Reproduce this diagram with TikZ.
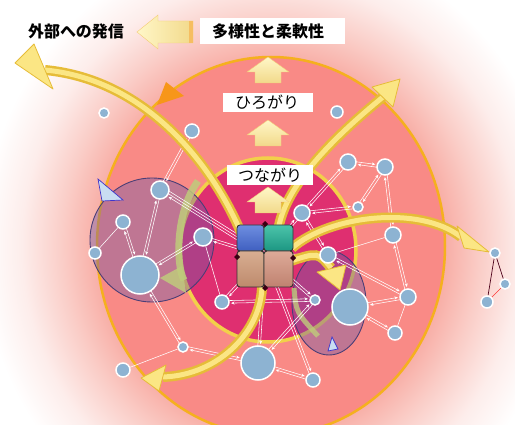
\documentclass[tikz,border=0pt]{standalone}
\usepackage{fontspec}
\newfontfamily\jp{Noto Sans CJK JP}
\usetikzlibrary{calc,arrows.meta}
\definecolor{salmon}{HTML}{F98A86}
\definecolor{orangeb}{HTML}{F5B01E}
\definecolor{magen}{HTML}{DF2F70}
\definecolor{ringy}{HTML}{F2D04A}
\definecolor{nodeb}{HTML}{8DB3D2}
\definecolor{glowa}{HTML}{F8AEA6}
\definecolor{glowb}{HTML}{FACDC7}
\definecolor{glowc}{HTML}{FDEDEB}
\definecolor{ydark}{HTML}{E6BC38}
\definecolor{ylight}{HTML}{FBE684}
\definecolor{ualight}{HTML}{FFF7C8}
\definecolor{uadark}{HTML}{F2D98A}
\definecolor{purp}{HTML}{6A58A8}
\definecolor{greenarc}{HTML}{BFCB7C}
\definecolor{tri}{HTML}{C9DDF2}
\definecolor{sqTLa}{HTML}{6E8EE0}\definecolor{sqTLb}{HTML}{3F5FC0}
\definecolor{sqTRa}{HTML}{4CC4AA}\definecolor{sqTRb}{HTML}{1C9682}
\definecolor{sqBLa}{HTML}{D8AE92}\definecolor{sqBLb}{HTML}{BE8A6C}
\definecolor{sqBRa}{HTML}{DDAA98}\definecolor{sqBRb}{HTML}{C08270}
\pgfdeclareradialshading{glow}{\pgfpoint{0bp}{0bp}}{color(0bp)=(glowa); color(15bp)=(glowa); color(18bp)=(glowb); color(21.5bp)=(glowc); color(25bp)=(white); color(50bp)=(white)}
\pgfdeclarelayer{bgl}\pgfdeclarelayer{conn}\pgfdeclarelayer{arrl}
\pgfsetlayers{bgl,conn,arrl,main}
\newcommand\wArr[3]{\draw[warr,shorten >=#3pt] ($(#1)!1.3pt!90:(#2)$) -- ($(#2)!1.3pt!-90:(#1)$);}
\newcommand\wPair[4]{\wArr{#1}{#2}{#4}\wArr{#2}{#1}{#3}}
\newcommand\upBlk[2]{\draw[uab] (#1,#2) -- ++(21,15) -- ++(-8,0) -- ++(0,11) -- ++(-26,0) -- ++(0,-11) -- ++(-8,0) -- cycle;}
\begin{document}
\begin{tikzpicture}[x=1pt,y=-1pt,
  nd/.style={circle,fill=nodeb,draw=white,line width=1.5pt,inner sep=0pt,minimum size=#1},
  warr/.style={draw=white,line width=0.55pt,-{Stealth[length=3.5pt,width=3pt]}},
  wl/.style={draw=white,line width=0.55pt},
  yarr/.style={draw=ydark,line width=10pt,postaction={draw=ylight,line width=5pt}},
  yhd/.style={fill=ylight,draw=ydark,line width=0.8pt,line join=round},
  uab/.style={top color=ualight,bottom color=uadark,draw=uadark!85!orange,line width=0.4pt},
  lab/.style={font=\jp\fontsize{16pt}{18pt}\selectfont,inner sep=0pt,text=black},
  sqb/.style={draw=black!80,line width=0.9pt,rounded corners=3pt}]
\useasboundingbox (0,0) rectangle (515,425);
\begin{pgfonlayer}{bgl}
\clip (0,0) rectangle (515,425);
\fill[white] (0,0) rectangle (515,425);
\shade[shading=glow] (271,246) ellipse [x radius=290pt, y radius=310pt];
\draw[orangeb, line width=2.5pt, fill=salmon] (271,246) ellipse [x radius=174pt, y radius=189pt];
\fill[orangeb!85!red] (157,105) -- (166,82) -- (184,96) -- cycle;
\draw[ringy, line width=3.5pt, fill=magen] (268,250) ellipse [x radius=88pt, y radius=92pt];
\draw[purp!70!black, line width=0.9pt, fill=purp, fill opacity=0.4] (152,240) circle [radius=62pt];
\draw[purp!70!black, line width=0.9pt, fill=purp, fill opacity=0.4] (329,303) ellipse [x radius=37pt, y radius=52pt];
\draw[purp!60!blue, line width=0.7pt, fill=tri] (98,179) -- (123,200) -- (102,201) -- cycle;
\draw[purp!60!blue, line width=0.7pt, fill=tri] (332,337) -- (338,349) -- (328,351) -- cycle;
\draw[greenarc, line width=7pt, opacity=0.85] (198,181) .. controls (175,212) and (176,266) .. (184,280);
\fill[greenarc, opacity=0.85] (160,278) -- (182,266) -- (186,293) -- cycle;
\draw[greenarc, line width=5pt, opacity=0.8] (294,288) .. controls (296,312) .. (318,336);
\end{pgfonlayer}
% nodes
\node[nd=10pt] (n1) at (104,113) {};
\node[nd=14pt] (n2) at (192,131) {};
\node[nd=12pt] (n3) at (337,112) {};
\node[nd=16pt] (n4) at (348,162) {};
\node[nd=16pt] (n5) at (385,167) {};
\node[nd=10pt] (n6) at (358,207) {};
\node[nd=16pt] (n7) at (302,213) {};
\node[nd=16pt] (n8) at (393,235) {};
\node[nd=16pt] (n9) at (328,255) {};
\node[nd=36pt] (n10) at (350,307) {};
\node[nd=16pt] (n11) at (408,297) {};
\node[nd=14pt] (n12) at (395,333) {};
\node[nd=10pt] (n13) at (315,300) {};
\node[nd=34pt] (n14) at (258,363) {};
\node[nd=14pt] (n15) at (313,380) {};
\node[nd=10pt] (n16) at (183,347) {};
\node[nd=14pt] (n17) at (123,370) {};
\node[nd=14pt] (n18) at (222,302) {};
\node[nd=18pt] (L1) at (160,190) {};
\node[nd=14pt] (L2) at (123,222) {};
\node[nd=12pt] (L3) at (95,253) {};
\node[nd=18pt] (L4) at (203,237) {};
\node[nd=38pt] (L5) at (140,275) {};
\node[nd=10pt] (o1) at (495,253) {};
\node[nd=10pt] (o2) at (505,284) {};
\node[nd=12pt] (o3) at (487,302) {};
\node[minimum width=56pt,minimum height=62pt,inner sep=0pt] (sq) at (265,256) {};
% connectors
\begin{pgfonlayer}{conn}
\wPair{L1}{L5}{11}{21}
\wPair{L2}{L5}{9}{21}
\wPair{L4}{L5}{11}{21}
\draw[wl] (L2) -- (L3);
\draw[wl] (L4) -- (n18);
\wPair{n2}{L1}{9}{11}
\wPair{L1}{sq}{11}{0}
\draw[wl] ($(L1)!3.9pt!90:(sq)$) -- ($(sq)!3.9pt!-90:(L1)$);
\wPair{sq}{L4}{0}{11}
\wPair{L5}{n16}{21}{7}
\draw[wl] (n16) -- (n17);
\wPair{n14}{n16}{19}{7}
\wPair{n7}{sq}{10}{0}
\wPair{n7}{n4}{10}{10}
\wPair{n7}{n6}{10}{7}
\wPair{n7}{n9}{10}{10}
\wPair{n4}{n5}{10}{10}
\wPair{n5}{n6}{10}{7}
\wPair{n5}{n8}{10}{10}
\draw[wl] (n8) -- (n9);
\wPair{n9}{n11}{10}{10}
\wPair{n8}{n11}{10}{10}
\wPair{n11}{n10}{10}{20}
\draw[wl] (n11) -- (n12);
\wPair{n12}{n10}{9}{20}
\wPair{sq}{n9}{0}{10}
\wPair{sq}{n13}{0}{7}
\wPair{sq}{n14}{0}{19}
\wPair{sq}{n15}{0}{9}
\wPair{sq}{n18}{0}{9}
\wPair{n13}{n14}{7}{19}
\wPair{n13}{n18}{7}{9}
\wPair{n15}{n14}{9}{19}
\draw[black!60!purple, line width=0.7pt] (o1) -- (o3);
\draw[black!60!purple, line width=0.7pt] (o1) -- (o2);
\draw[red!60!salmon, line width=0.7pt] (o2) -- (o3);
\end{pgfonlayer}
% yellow arrows
\begin{pgfonlayer}{arrl}
\draw[yarr] (242,235) .. controls (215,170) and (150,80) .. (45,70);
\draw[yhd] (15,63) -- (34,44) -- (53,89) -- cycle;
\draw[yarr] (278,232) .. controls (282,195) and (318,150) .. (383,97);
\draw[yhd] (400,79) -- (372,87) -- (393,107) -- cycle;
\draw[yarr] (292,248) .. controls (330,215) and (420,205) .. (461,237);
\draw[yhd] (489,252) -- (457,226) -- (464,248) -- cycle;
\draw[yarr] (262,285) .. controls (262,330) and (220,375) .. (163,377);
\draw[yhd] (141,378) -- (166,365) -- (159,391) -- cycle;
\draw[yarr] (288,262) .. controls (318,252) .. (331,268);
\draw[yhd] (340,290) -- (317,272) -- (346,265) -- cycle;
\end{pgfonlayer}
% central squares
\draw[sqb, top color=sqTLa, bottom color=sqTLb] (237,225) rectangle (264,251);
\draw[sqb, top color=sqTRa, bottom color=sqTRb] (264,225) rectangle (293,251);
\draw[sqb, top color=sqBLa, bottom color=sqBLb] (237,251) rectangle (264,287);
\draw[sqb, top color=sqBRa, bottom color=sqBRb] (264,251) rectangle (293,287);
\foreach \p in {(265,224),(237,257),(265,288),(293,258)}
  \fill[black!70!purple] \p ++(0,-3) -- ++(3,3) -- ++(-3,3) -- ++(-3,-3) -- cycle;
% up arrows
\upBlk{268}{57}
\upBlk{268}{120}
\upBlk{268}{187}
\draw[uab, left color=ualight, right color=uadark] (137,32) -- (158,15) -- (158,21) -- (193,21) -- (193,43) -- (158,43) -- (158,49) -- cycle;
\fill[uadark!70!orange] (189,21) rectangle (193,43);
% labels
\fill[white] (200,18) rectangle (345,44);
\node[lab] (t1) at (76,31) {\bfseries 外部への発信};
\node[lab] (t2) at (268,31) {\bfseries 多様性と柔軟性};
\fill[white] (223,93) rectangle (313,112);
\node[lab] (t3) at (267,102) {ひろがり};
\fill[white] (227,165) rectangle (313,185);
\node[lab] (t4) at (270,175) {つながり};
\end{tikzpicture}
\end{document}
